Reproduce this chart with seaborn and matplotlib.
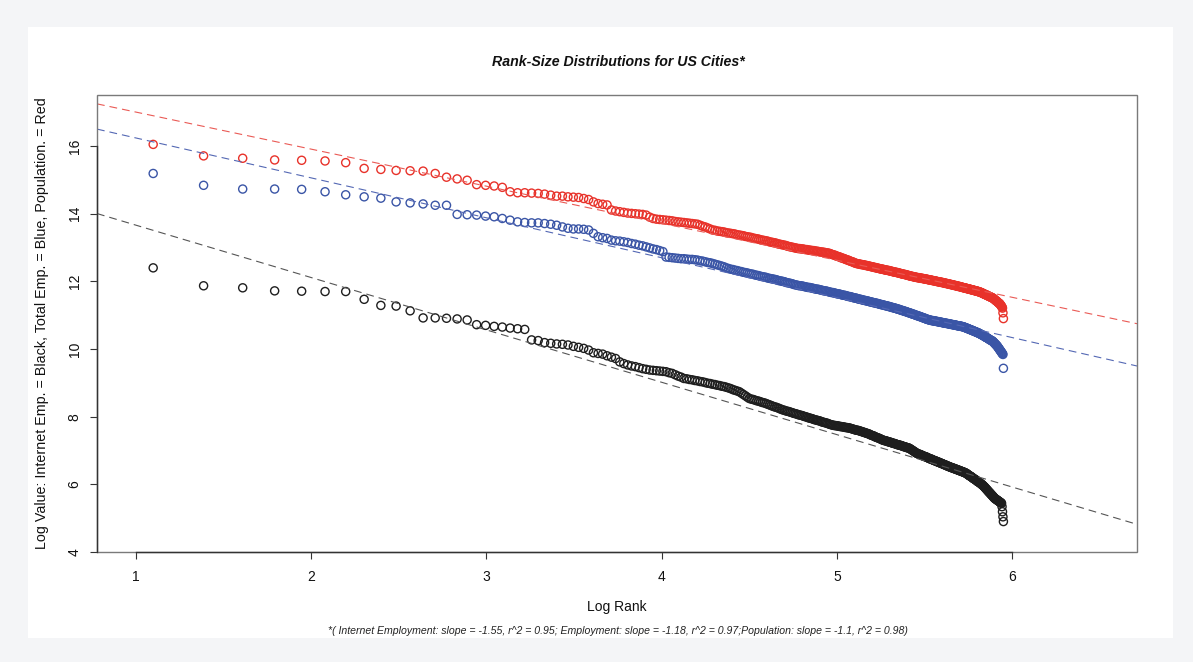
import numpy as np
import pandas as pd
import seaborn as sns
import matplotlib.pyplot as plt
from matplotlib.patches import Rectangle

# city ranks 3..384, plotted on log scale
ranks = list(range(3, 385))

pop_log = [
    16.05, 15.71, 15.64, 15.59, 15.58, 15.56, 15.51, 15.34, 15.31, 15.28,
    15.27, 15.26, 15.19, 15.08, 15.03, 14.99, 14.86, 14.84, 14.82, 14.78,
    14.65, 14.62, 14.62, 14.61, 14.60, 14.58, 14.55, 14.52, 14.52, 14.50,
    14.49, 14.48, 14.45, 14.42, 14.35, 14.30, 14.28, 14.26, 14.11, 14.08,
    14.06, 14.04, 14.02, 14.01, 14.00, 13.99, 13.98, 13.96, 13.90, 13.86,
    13.84, 13.83, 13.82, 13.81, 13.80, 13.79, 13.77, 13.76, 13.75, 13.74,
    13.73, 13.72, 13.71, 13.70, 13.69, 13.66, 13.63, 13.61, 13.58, 13.55,
    13.52, 13.51, 13.49, 13.48, 13.47, 13.46, 13.44, 13.43, 13.42, 13.41,
    13.40, 13.38, 13.37, 13.36, 13.35, 13.33, 13.32, 13.31, 13.30, 13.28,
    13.27, 13.26, 13.25, 13.23, 13.22, 13.21, 13.20, 13.19, 13.17, 13.16,
    13.15, 13.14, 13.13, 13.11, 13.10, 13.09, 13.08, 13.07, 13.06, 13.04,
    13.03, 13.02, 13.01, 13.00, 12.99, 12.98, 12.97, 12.97, 12.96, 12.96,
    12.95, 12.94, 12.94, 12.93, 12.92, 12.92, 12.91, 12.91, 12.90, 12.89,
    12.89, 12.88, 12.87, 12.87, 12.86, 12.86, 12.85, 12.84, 12.84, 12.83,
    12.82, 12.80, 12.79, 12.78, 12.77, 12.75, 12.74, 12.73, 12.72, 12.70,
    12.69, 12.68, 12.67, 12.65, 12.64, 12.63, 12.62, 12.60, 12.59, 12.58,
    12.57, 12.55, 12.54, 12.53, 12.52, 12.52, 12.51, 12.50, 12.50, 12.49,
    12.49, 12.48, 12.47, 12.47, 12.46, 12.45, 12.45, 12.44, 12.43, 12.43,
    12.42, 12.41, 12.41, 12.40, 12.39, 12.39, 12.38, 12.37, 12.37, 12.36,
    12.36, 12.35, 12.34, 12.34, 12.33, 12.33, 12.32, 12.32, 12.31, 12.30,
    12.30, 12.29, 12.28, 12.28, 12.27, 12.27, 12.26, 12.26, 12.25, 12.24,
    12.24, 12.23, 12.22, 12.22, 12.21, 12.21, 12.20, 12.20, 12.19, 12.18,
    12.18, 12.17, 12.16, 12.16, 12.15, 12.15, 12.14, 12.14, 12.13, 12.13,
    12.12, 12.12, 12.11, 12.11, 12.11, 12.10, 12.10, 12.09, 12.09, 12.09,
    12.08, 12.08, 12.07, 12.07, 12.07, 12.06, 12.06, 12.05, 12.05, 12.04,
    12.04, 12.04, 12.03, 12.03, 12.02, 12.02, 12.02, 12.01, 12.01, 12.00,
    12.00, 11.99, 11.99, 11.99, 11.98, 11.98, 11.97, 11.97, 11.97, 11.96,
    11.96, 11.95, 11.95, 11.94, 11.94, 11.94, 11.93, 11.93, 11.92, 11.92,
    11.91, 11.91, 11.91, 11.90, 11.90, 11.89, 11.89, 11.88, 11.88, 11.88,
    11.87, 11.87, 11.86, 11.86, 11.85, 11.85, 11.85, 11.84, 11.84, 11.83,
    11.83, 11.82, 11.82, 11.81, 11.81, 11.81, 11.80, 11.80, 11.79, 11.79,
    11.78, 11.78, 11.78, 11.77, 11.77, 11.76, 11.76, 11.75, 11.75, 11.75,
    11.74, 11.74, 11.73, 11.73, 11.72, 11.72, 11.72, 11.71, 11.71, 11.70,
    11.70, 11.69, 11.69, 11.68, 11.68, 11.67, 11.66, 11.66, 11.65, 11.64,
    11.63, 11.63, 11.62, 11.61, 11.61, 11.60, 11.59, 11.59, 11.58, 11.57,
    11.56, 11.56, 11.55, 11.54, 11.54, 11.53, 11.52, 11.52, 11.51, 11.50,
    11.49, 11.48, 11.47, 11.45, 11.44, 11.43, 11.42, 11.41, 11.40, 11.38,
    11.37, 11.36, 11.35, 11.34, 11.32, 11.30, 11.28, 11.26, 11.24, 11.21,
    11.07, 10.90,
]

emp_log = [
    15.19, 14.84, 14.73, 14.73, 14.72, 14.65, 14.56, 14.50, 14.46, 14.35,
    14.32, 14.29, 14.25, 14.25, 13.98, 13.97, 13.96, 13.93, 13.91, 13.86,
    13.81, 13.76, 13.74, 13.73, 13.73, 13.71, 13.69, 13.66, 13.61, 13.57,
    13.55, 13.55, 13.54, 13.52, 13.42, 13.32, 13.29, 13.27, 13.22, 13.20,
    13.19, 13.17, 13.15, 13.12, 13.10, 13.07, 13.05, 13.02, 12.99, 12.96,
    12.94, 12.91, 12.88, 12.72, 12.71, 12.70, 12.69, 12.68, 12.67, 12.67,
    12.66, 12.65, 12.65, 12.64, 12.63, 12.61, 12.60, 12.58, 12.56, 12.55,
    12.53, 12.51, 12.49, 12.47, 12.45, 12.43, 12.40, 12.38, 12.36, 12.35,
    12.33, 12.32, 12.30, 12.29, 12.27, 12.26, 12.25, 12.23, 12.22, 12.21,
    12.19, 12.18, 12.17, 12.15, 12.14, 12.13, 12.12, 12.10, 12.09, 12.08,
    12.07, 12.06, 12.05, 12.03, 12.02, 12.01, 12.00, 11.99, 11.97, 11.96,
    11.95, 11.94, 11.93, 11.91, 11.90, 11.89, 11.88, 11.87, 11.87, 11.86,
    11.85, 11.84, 11.83, 11.82, 11.82, 11.81, 11.80, 11.79, 11.78, 11.77,
    11.77, 11.76, 11.75, 11.74, 11.73, 11.72, 11.72, 11.71, 11.70, 11.69,
    11.68, 11.67, 11.67, 11.66, 11.65, 11.64, 11.63, 11.63, 11.62, 11.61,
    11.60, 11.59, 11.59, 11.58, 11.57, 11.56, 11.55, 11.55, 11.54, 11.53,
    11.52, 11.51, 11.51, 11.50, 11.49, 11.48, 11.47, 11.47, 11.46, 11.45,
    11.44, 11.44, 11.43, 11.42, 11.42, 11.41, 11.40, 11.39, 11.39, 11.38,
    11.37, 11.37, 11.36, 11.35, 11.35, 11.34, 11.33, 11.32, 11.32, 11.31,
    11.30, 11.30, 11.29, 11.28, 11.28, 11.27, 11.26, 11.26, 11.25, 11.24,
    11.23, 11.23, 11.22, 11.21, 11.21, 11.20, 11.19, 11.18, 11.18, 11.17,
    11.16, 11.15, 11.14, 11.14, 11.13, 11.12, 11.11, 11.11, 11.10, 11.09,
    11.08, 11.07, 11.07, 11.06, 11.05, 11.04, 11.03, 11.03, 11.02, 11.01,
    11.00, 10.99, 10.99, 10.98, 10.97, 10.96, 10.96, 10.95, 10.94, 10.93,
    10.92, 10.92, 10.91, 10.90, 10.89, 10.88, 10.88, 10.87, 10.86, 10.86,
    10.85, 10.85, 10.84, 10.84, 10.84, 10.83, 10.83, 10.83, 10.82, 10.82,
    10.81, 10.81, 10.81, 10.80, 10.80, 10.79, 10.79, 10.79, 10.78, 10.78,
    10.77, 10.77, 10.77, 10.76, 10.76, 10.76, 10.75, 10.75, 10.75, 10.74,
    10.74, 10.73, 10.73, 10.73, 10.72, 10.72, 10.72, 10.71, 10.71, 10.71,
    10.70, 10.70, 10.69, 10.69, 10.69, 10.68, 10.68, 10.68, 10.67, 10.67,
    10.67, 10.66, 10.66, 10.65, 10.65, 10.64, 10.63, 10.63, 10.62, 10.61,
    10.61, 10.60, 10.59, 10.59, 10.58, 10.57, 10.57, 10.56, 10.55, 10.55,
    10.54, 10.53, 10.53, 10.52, 10.51, 10.51, 10.50, 10.49, 10.49, 10.48,
    10.47, 10.47, 10.46, 10.45, 10.44, 10.43, 10.42, 10.42, 10.41, 10.40,
    10.39, 10.38, 10.37, 10.36, 10.35, 10.34, 10.34, 10.33, 10.32, 10.31,
    10.30, 10.29, 10.28, 10.27, 10.26, 10.26, 10.25, 10.24, 10.23, 10.22,
    10.20, 10.19, 10.17, 10.16, 10.14, 10.13, 10.11, 10.10, 10.08, 10.06,
    10.04, 10.02, 10.00, 9.98, 9.96, 9.94, 9.92, 9.90, 9.88, 9.86,
    9.84, 9.43,
]

inet_log = [
    12.40, 11.87, 11.81, 11.72, 11.71, 11.70, 11.70, 11.47, 11.29, 11.27,
    11.13, 10.92, 10.92, 10.91, 10.89, 10.86, 10.72, 10.70, 10.67, 10.65,
    10.62, 10.60, 10.58, 10.27, 10.25, 10.19, 10.17, 10.15, 10.14, 10.12,
    10.08, 10.05, 10.02, 9.97, 9.89, 9.87, 9.85, 9.80, 9.76, 9.72,
    9.62, 9.57, 9.53, 9.50, 9.48, 9.45, 9.42, 9.40, 9.38, 9.37,
    9.36, 9.35, 9.34, 9.33, 9.30, 9.28, 9.24, 9.20, 9.17, 9.13,
    9.12, 9.10, 9.09, 9.07, 9.06, 9.04, 9.03, 9.01, 8.99, 8.98,
    8.96, 8.95, 8.93, 8.92, 8.90, 8.89, 8.87, 8.85, 8.83, 8.80,
    8.78, 8.76, 8.74, 8.70, 8.66, 8.62, 8.58, 8.54, 8.52, 8.51,
    8.49, 8.47, 8.46, 8.44, 8.42, 8.41, 8.39, 8.37, 8.35, 8.33,
    8.31, 8.29, 8.28, 8.26, 8.24, 8.22, 8.20, 8.19, 8.17, 8.16,
    8.15, 8.13, 8.12, 8.10, 8.09, 8.08, 8.06, 8.05, 8.04, 8.03,
    8.01, 8.00, 7.99, 7.97, 7.96, 7.95, 7.94, 7.92, 7.91, 7.90,
    7.89, 7.88, 7.87, 7.85, 7.84, 7.83, 7.82, 7.81, 7.80, 7.78,
    7.77, 7.76, 7.75, 7.74, 7.74, 7.73, 7.73, 7.72, 7.71, 7.71,
    7.70, 7.70, 7.69, 7.68, 7.68, 7.67, 7.67, 7.66, 7.65, 7.64,
    7.63, 7.62, 7.61, 7.60, 7.60, 7.59, 7.58, 7.57, 7.56, 7.55,
    7.54, 7.53, 7.52, 7.51, 7.50, 7.49, 7.48, 7.46, 7.45, 7.44,
    7.43, 7.42, 7.40, 7.39, 7.38, 7.37, 7.36, 7.35, 7.33, 7.32,
    7.31, 7.30, 7.29, 7.29, 7.28, 7.27, 7.26, 7.25, 7.25, 7.24,
    7.23, 7.22, 7.21, 7.21, 7.20, 7.19, 7.18, 7.17, 7.17, 7.16,
    7.15, 7.15, 7.14, 7.13, 7.12, 7.11, 7.11, 7.10, 7.09, 7.08,
    7.08, 7.07, 7.06, 7.04, 7.03, 7.01, 7.00, 6.98, 6.97, 6.95,
    6.94, 6.92, 6.91, 6.90, 6.89, 6.89, 6.88, 6.87, 6.86, 6.85,
    6.84, 6.83, 6.82, 6.82, 6.81, 6.80, 6.79, 6.78, 6.77, 6.76,
    6.75, 6.75, 6.74, 6.73, 6.72, 6.71, 6.70, 6.70, 6.69, 6.68,
    6.67, 6.66, 6.66, 6.65, 6.64, 6.63, 6.62, 6.62, 6.61, 6.60,
    6.59, 6.58, 6.58, 6.57, 6.56, 6.55, 6.54, 6.54, 6.53, 6.52,
    6.51, 6.51, 6.50, 6.49, 6.49, 6.48, 6.47, 6.47, 6.46, 6.45,
    6.45, 6.44, 6.43, 6.43, 6.42, 6.41, 6.41, 6.40, 6.39, 6.39,
    6.38, 6.37, 6.37, 6.36, 6.35, 6.35, 6.34, 6.33, 6.32, 6.31,
    6.30, 6.28, 6.27, 6.26, 6.25, 6.24, 6.23, 6.22, 6.21, 6.19,
    6.18, 6.17, 6.16, 6.15, 6.14, 6.13, 6.12, 6.10, 6.09, 6.08,
    6.07, 6.06, 6.05, 6.04, 6.03, 6.01, 6.00, 5.99, 5.98, 5.96,
    5.95, 5.93, 5.92, 5.90, 5.88, 5.87, 5.85, 5.83, 5.82, 5.80,
    5.78, 5.77, 5.75, 5.74, 5.72, 5.70, 5.69, 5.67, 5.66, 5.64,
    5.62, 5.61, 5.59, 5.58, 5.57, 5.56, 5.55, 5.54, 5.53, 5.52,
    5.51, 5.50, 5.49, 5.48, 5.47, 5.46, 5.45, 5.44, 5.34, 5.19,
    5.04, 4.90,
]

# fitted rank-size lines (intercept, slope)
fit_names = ['Internet Emp.', 'Total Emp.', 'Population']
fit_intercepts = [15.21, 17.42, 18.10]
fit_slopes = [-1.548, -1.18, -1.095]

colors = {'Internet Emp.': '#1e1e1e', 'Total Emp.': '#3a55a6', 'Population': '#e8322a'}
line_colors = {'Internet Emp.': '#555555', 'Total Emp.': '#5468b4', 'Population': '#ea5a55'}

series = {'Internet Emp.': inet_log, 'Total Emp.': emp_log, 'Population': pop_log}
df = pd.concat([
    pd.DataFrame({'rank': ranks, 'value': v, 'series': k}) for k, v in series.items()
])
df['log_rank'] = np.log(df['rank'])

sns.set_style('white')
plt.rcParams['font.family'] = ['Liberation Sans', 'DejaVu Sans']

W, H = 1193, 662
fig = plt.figure(figsize=(W / 100, H / 100), dpi=100)
fig.patch.set_facecolor('#f4f5f7')
fig.patches.append(Rectangle((28 / W, 1 - 638 / H), 1145 / W, 611 / H,
                             transform=fig.transFigure, fc='white', ec='none', zorder=-1))

ax = fig.add_axes([97 / W, 1 - 552 / H, 1040 / W, 457 / H])
ax.set_zorder(1)
ax.set_facecolor('white')

for name in series:
    sub = df[df['series'] == name]
    sns.scatterplot(data=sub, x='log_rank', y='value', ax=ax, color=colors[name],
                    facecolor='none', edgecolor=colors[name], s=34, linewidth=1.0,
                    marker='o', legend=False, zorder=3)

for name, b0, b1 in zip(fit_names, fit_intercepts, fit_slopes):
    ax.axline((0, b0), slope=b1, color=line_colors[name], lw=0.8,
              linestyle=(0, (7, 4.5)), zorder=4)

ax.set_xlim(0.778, 6.713)
ax.set_ylim(4.0, 17.51)
ax.set_xticks([1, 2, 3, 4, 5, 6])
ax.set_yticks([4, 6, 8, 10, 12, 14, 16])

# R-style axes: axis lines only between first and last tick, plus a box
for s in ['top', 'right']:
    ax.spines[s].set_visible(False)
ax.spines['bottom'].set_bounds(1, 6)
ax.spines['left'].set_bounds(4, 16)
for s in ['bottom', 'left']:
    ax.spines[s].set_color('#333333')
    ax.spines[s].set_linewidth(1.0)
    ax.spines[s].set_zorder(6)
ax.add_patch(Rectangle((0, 0), 1, 1, transform=ax.transAxes, fill=False,
                       ec='#7a7a7a', lw=1.0, zorder=5, clip_on=False))

ax.tick_params(axis='both', which='major', bottom=True, left=True, direction='out',
               length=5, width=0.8, color='#333333', labelsize=10, labelcolor='#111111')
ax.tick_params(axis='x', pad=8)
ax.tick_params(axis='y', pad=6)
for lab in ax.get_yticklabels():
    lab.set_rotation(90)
    lab.set_va('center')

ax.set_xlabel('Log Rank', fontsize=10, color='#111111')
ax.set_ylabel('Log Value: Internet Emp. = Black, Total Emp. = Blue, Population. = Red',
              fontsize=10.3, color='#111111')
ax.xaxis.set_label_coords(0.5, -(607 - 552) / 457)
ax.xaxis.label.set_va('center')
ax.yaxis.set_label_coords(-(97 - 42) / 1040, 0.5)
ax.yaxis.label.set_va('center')

fig.text(618 / W, 1 - 62 / H, 'Rank-Size Distributions for US Cities*', ha='center',
         va='center', fontsize=10.2, fontweight='bold', fontstyle='italic', color='#111111')
fig.text(618 / W, 1 - 631 / H,
         '*( Internet Employment: slope = -1.55, r^2 = 0.95; Employment: slope = -1.18, '
         'r^2 = 0.97;Population: slope = -1.1, r^2 = 0.98)',
         ha='center', va='center', fontsize=7.6, fontstyle='italic', color='#222222')

fig.savefig('out.png', dpi=100, facecolor=fig.get_facecolor())
